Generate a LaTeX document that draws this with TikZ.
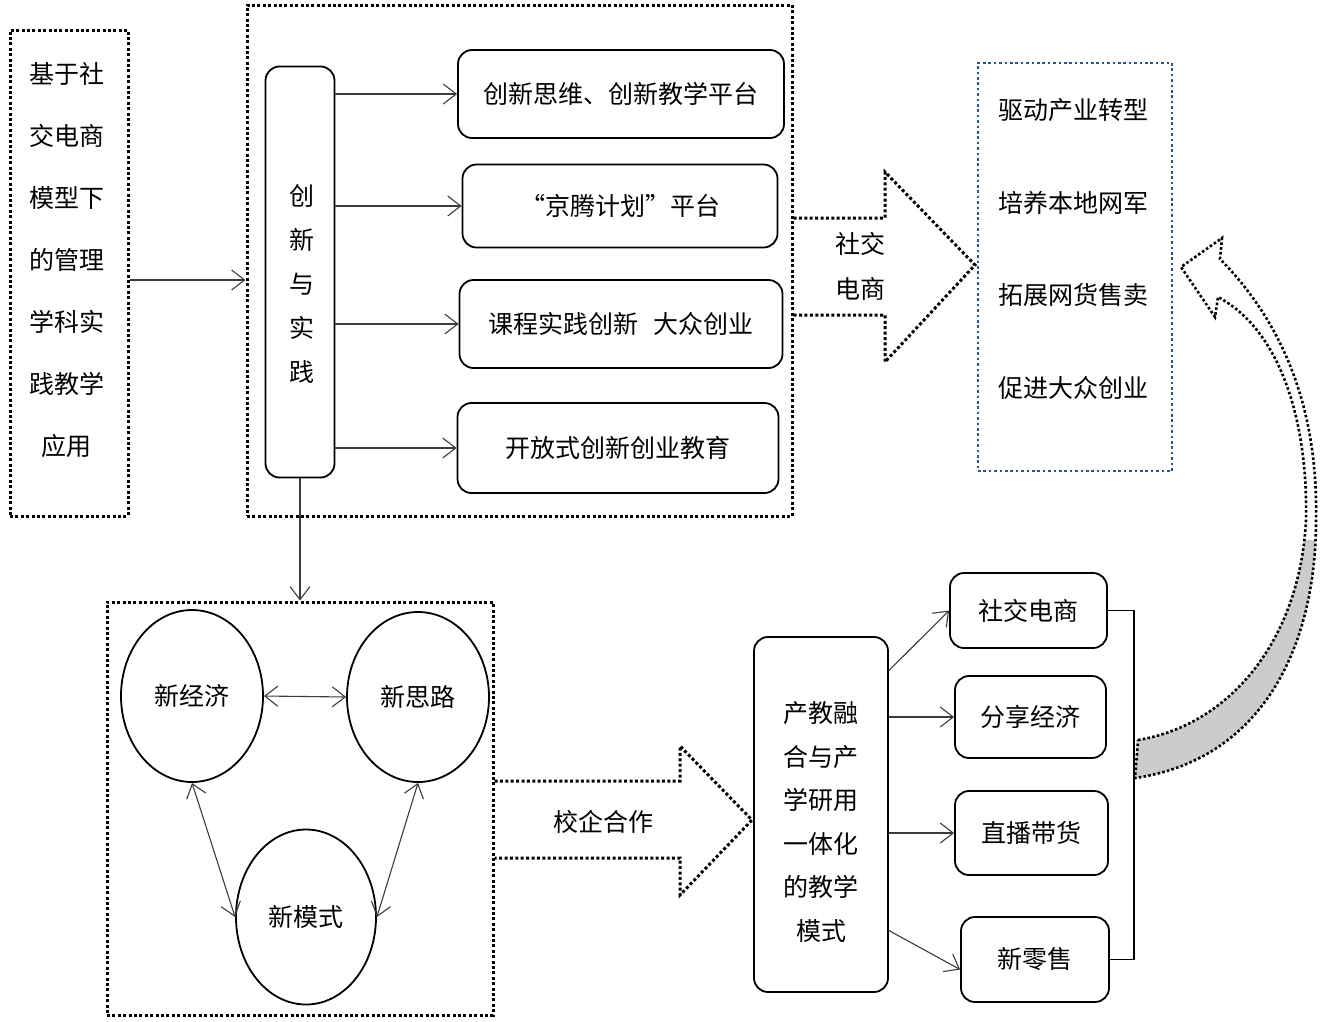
\documentclass[tikz,border=0pt]{standalone}
\usepackage{fontspec}
\setmainfont{Noto Sans CJK SC}
\usepackage{tikz}
\usetikzlibrary{positioning,shapes.geometric,arrows.meta}
\definecolor{dotblue}{RGB}{40,85,140}
\definecolor{linegray}{RGB}{60,60,60}
\tikzstyle{dotbox} = [draw=black, line width=3pt, dash pattern=on 3pt off 2.4pt,
    rectangle, inner sep=0pt]
\tikzstyle{bluebox} = [draw=dotblue, line width=2.6pt, dash pattern=on 2.6pt off 2.8pt,
    rectangle, inner sep=0pt]
\tikzstyle{roundbox} = [draw=black, line width=1.8pt, rectangle, rounded corners=14pt,
    inner sep=0pt, font=\fontsize{25}{30}\selectfont]
\tikzstyle{oval} = [draw=black, line width=1.8pt, ellipse, inner sep=0pt,
    font=\fontsize{25}{30}\selectfont]
\tikzstyle{link} = [draw=linegray, line width=1.1pt, -{Straight Barb[length=13pt,width=20pt]}]
\tikzstyle{twolink} = [draw=linegray, line width=1.1pt,
    {Straight Barb[length=13pt,width=20pt]}-{Straight Barb[length=13pt,width=20pt]}]
\tikzstyle{bigarrow} = [draw=black, line width=3pt, dash pattern=on 3pt off 2.4pt]
\tikzstyle{coltext} = [align=center, inner sep=0pt]

\begin{document}
\begin{tikzpicture}[x=1pt, y=-1pt]
\useasboundingbox (0,0) rectangle (1322,1021);

\node [dotbox, minimum width=118, minimum height=486] (basis) at (69,273) {};
\node [coltext, font=\fontsize{25}{62}\selectfont] (basistext) at (67,260)
    {基于社\\交电商\\模型下\\的管理\\学科实\\践教学\\应用};

\node [dotbox, minimum width=545, minimum height=511] (innov) at (519.5,260.5) {};
\node [roundbox, minimum width=69, minimum height=411] (practice) at (300,272) {};
\node [coltext, font=\fontsize{25}{44}\selectfont] (practicetext) at (302,284)
    {创\\新\\与\\实\\践};
\node [roundbox, minimum width=326, minimum height=88] (platA) at (621,94) {创新思维、创新教学平台};
\node [roundbox, minimum width=315, minimum height=83] (platB) at (620,206) {“京腾计划”平台};
\node [roundbox, minimum width=323, minimum height=88] (platC) at (621,324) {课程实践创新\hspace{0.6em}大众创业};
\node [roundbox, minimum width=321, minimum height=90] (platD) at (618,448) {开放式创新创业教育};

\draw [link] ([yshift=-7pt]basis.east) -- ([yshift=-7pt]basis.east -| innov.west);
\foreach \p in {platA,platB,platC,platD}
    \draw [link] (practice.east |- \p.west) -- (\p.west);

\draw [bigarrow] (innov.east |- 0,218) -- (885,218) -- (885,172) -- (975,265)
    -- (885,362) -- (885,315) -- (innov.east |- 0,315);
\node [coltext, font=\fontsize{25}{45}\selectfont] (socialtext) at (860,266) {社交\\电商};

\node [bluebox, minimum width=194, minimum height=408] (result) at (1075,267) {};
\node [coltext, font=\fontsize{25}{92.7}\selectfont] (resulttext) at (1073,249)
    {驱动产业转型\\培养本地网军\\拓展网货售卖\\促进大众创业};

\node [dotbox, minimum width=386, minimum height=413] (ideas) at (300,808.5) {};
\draw [link] (practice.south) -- (ideas.north);
\node [oval, minimum width=142, minimum height=172] (econ) at (192,696) {新经济};
\node [oval, minimum width=142, minimum height=170] (idea) at (418,697) {新思路};
\node [oval, minimum width=140, minimum height=175] (mode) at (306,917) {新模式};
\draw [twolink] (econ.east) -- (idea.west);
\draw [twolink] (econ.south) -- (mode.west);
\draw [twolink] (idea.south) -- (mode.east);

\draw [bigarrow] (ideas.east |- 0,781) -- (680,781) -- (680,746) -- (752,820)
    -- (680,895) -- (680,858) -- (ideas.east |- 0,858);
\node [font=\fontsize{25}{30}\selectfont, inner sep=0pt] (schooltext) at (603,822) {校企合作};

\node [roundbox, minimum width=134, minimum height=355] (teach) at (821,814.5) {};
\node [coltext, font=\fontsize{25}{43.6}\selectfont] (teachtext) at (821,822)
    {产教融\\合与产\\学研用\\一体化\\的教学\\模式};
\node [roundbox, minimum width=157, minimum height=75] (shop) at (1028.5,610.5) {社交电商};
\node [roundbox, minimum width=151, minimum height=82] (share) at (1030.5,717) {分享经济};
\node [roundbox, minimum width=153, minimum height=84] (live) at (1031.5,833) {直播带货};
\node [roundbox, minimum width=148, minimum height=85] (retail) at (1035,959.5) {新零售};
\draw [link] ([yshift=144pt]teach.east) -- (shop.west);
\draw [link] (teach.east |- share.west) -- (share.west);
\draw [link] (teach.east |- live.west) -- (live.west);
\draw [link] ([yshift=-116pt]teach.east) -- ([yshift=-10pt]retail.west);
\draw [line width=1.8pt] (shop.east) -- ++(26,0) |- (retail.east);

\begin{scope}
\clip (1100,540) rectangle (1330,800);
\fill [black!20] (1138,740) .. controls (1230,725) and (1300,640) .. (1306,520)
    -- (1316,520) .. controls (1316,650) and (1260,760) .. (1135,778) -- cycle;
\end{scope}
\draw [bigarrow, line width=2.6pt, dash pattern=on 2.6pt off 2.2pt]
    (1138,740) .. controls (1230,725) and (1300,640) .. (1306,520)
    .. controls (1308,420) and (1280,330) .. (1218,297)
    -- (1215,317) -- (1181,267) -- (1222,238) -- (1220,259)
    .. controls (1290,330) and (1318,420) .. (1316,520)
    .. controls (1316,650) and (1260,760) .. (1135,778) -- cycle;
\end{tikzpicture}
\end{document}
